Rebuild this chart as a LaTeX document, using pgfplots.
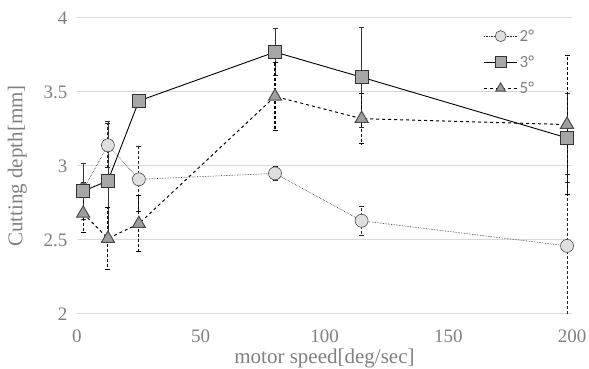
\documentclass[border=0pt]{standalone}
\usepackage{fontspec}
\setmainfont{Liberation Serif}
\newfontfamily\legfont{Carlito}
\usepackage{pgfplots}
\pgfplotsset{compat=1.18}
\definecolor{txtgray}{RGB}{128,128,128}
\definecolor{gridgray}{RGB}{217,217,217}

\pgfplotstableread{
x y e
2.5 2.84 0.05
12.5 3.14 0.15
25 2.91 0.22
80 2.95 0.05
115 2.63 0.10
198 2.46 0.48
}\tdeg

\pgfplotstableread{
x y e
2.5 2.83 0.19
12.5 2.90 0.40
25 3.44 0.02
80 3.77 0.16
115 3.60 0.34
198 3.19 0.30
}\thdeg

\pgfplotstableread{
x y e
2.5 2.68 0.13
12.5 2.51 0.21
25 2.61 0.19
80 3.47 0.23
115 3.32 0.17
198 3.28 0.47
}\fdeg

\begin{document}
\begin{tikzpicture}
\begin{axis}[
  scale only axis,
  width=495pt, height=296pt,
  at={(0,0)}, anchor=south west,
  xmin=0, xmax=200, ymin=2, ymax=4,
  xtick={0,50,100,150,200},
  ytick={2,2.5,3,3.5,4},
  axis line style={draw=none},
  tick style={draw=none},
  ymajorgrids,
  major grid style={gridgray, line width=1pt},
  ticklabel style={font=\fontsize{19}{19}\selectfont, text=txtgray},
  xticklabel style={yshift=-12pt},
  yticklabel style={xshift=-6pt},
  /pgf/number format/assume math mode=true,
  xlabel={motor speed[deg/sec]},
  ylabel={Cutting depth[mm]},
  label style={font=\fontsize{21}{21}\selectfont, text=txtgray},
  xlabel style={yshift=0pt},
  ylabel style={yshift=10pt},
  legend style={draw=none, fill=none, at={(0.815,0.975)}, anchor=north west,
    font=\legfont\fontsize{17}{17}\selectfont, text=txtgray, row sep=9pt},
  legend cell align=left,
  legend image code/.code={\draw[mark repeat=2,mark phase=2, mark size=5.5pt] plot coordinates {(0cm,0cm) (0.58cm,0cm) (1.16cm,0cm)};},
]
\addplot[black!85, line width=0.6pt, densely dotted,
  mark=*, mark size=6.5pt, mark options={solid, fill=gray!25, draw=black!70},
  error bars/.cd, y dir=both, y explicit,
  error bar style={line width=0.9pt, densely dashed},
  error mark options={rotate=90, mark size=2.5pt, solid, line width=0.8pt}]
  table[x=x, y=y, y error=e] {\tdeg};
\addlegendentry{2°}
\addplot[black, line width=0.9pt, solid,
  mark=square*, mark size=6.5pt, mark options={solid, fill=gray!70, draw=black!80},
  error bars/.cd, y dir=both, y explicit,
  error bar style={line width=0.6pt, solid, black!80},
  error mark options={rotate=90, mark size=2.5pt, solid, line width=0.6pt}]
  table[x=x, y=y, y error=e] {\thdeg};
\addlegendentry{3°}
\addplot[black, line width=1pt, dashed,
  mark=triangle*, mark size=7.5pt, mark options={solid, fill=gray!75, draw=gray!60!black},
  error bars/.cd, y dir=both, y explicit,
  error bar style={line width=1.1pt, densely dashed},
  error mark options={rotate=90, mark size=2.5pt, solid, line width=0.8pt}]
  table[x=x, y=y, y error=e] {\fdeg};
\addlegendentry{5°}
\end{axis}
\pgfresetboundingbox
\path (-77pt,-55pt) rectangle (512pt,314pt);
\end{tikzpicture}
\end{document}
